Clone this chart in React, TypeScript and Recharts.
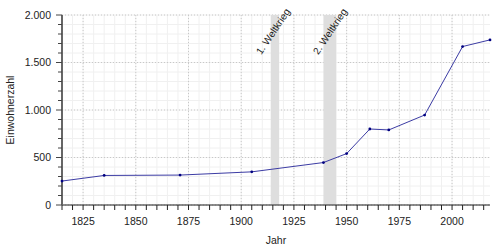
import { LineChart, Line, XAxis, YAxis, CartesianGrid, ReferenceArea } from "recharts";

const years = [1815, 1835, 1871, 1905, 1939, 1950, 1961, 1970, 1987, 2005, 2018];
const population = [252, 311, 315, 349, 447, 541, 800, 790, 947, 1668, 1738];

const xTicks = [1815, 1820, 1825, 1830, 1835, 1840, 1845, 1850, 1855, 1860, 1865, 1870, 1875, 1880, 1885, 1890, 1895, 1900, 1905, 1910, 1915, 1920, 1925, 1930, 1935, 1940, 1945, 1950, 1955, 1960, 1965, 1970, 1975, 1980, 1985, 1990, 1995, 2000, 2005, 2010, 2015];
const xMajor = [1825, 1850, 1875, 1900, 1925, 1950, 1975, 2000];
const yTicks = [0, 100, 200, 300, 400, 500, 600, 700, 800, 900, 1000, 1100, 1200, 1300, 1400, 1500, 1600, 1700, 1800, 1900, 2000];
const yMajor = [0, 500, 1000, 1500, 2000];

const wars = [
  { name: "1. Weltkrieg", from: 1914, to: 1918 },
  { name: "2. Weltkrieg", from: 1939, to: 1945 },
];

const data = years.map((year, i) => ({ year, value: population[i] }));

const font = "'Liberation Sans', Arial, sans-serif";

// 2000 -> "2.000"
const fmt = (n: number) => String(n).replace(/\B(?=(\d{3})+(?!\d))/g, ".");

function XTick(props: any) {
  const { x, y, payload } = props;
  const major = xMajor.includes(payload.value);
  return (
    <g>
      <line x1={x} x2={x} y1={y} y2={y + 5} stroke="#222" strokeWidth={1} />
      {major && (
        <text x={x} y={y + 20} textAnchor="middle" fontSize={10.5} fontFamily={font} fill="#222">
          {payload.value}
        </text>
      )}
    </g>
  );
}

function YTick(props: any) {
  const { x, y, payload } = props;
  const major = yMajor.includes(payload.value);
  const len = major ? 6 : 4;
  return (
    <g>
      <line x1={x - len} x2={x} y1={y} y2={y} stroke="#444" strokeWidth={1} />
      {major && (
        <text x={x - 11} y={y + 3.8} textAnchor="end" fontSize={10.5} fontFamily={font} fill="#222">
          {fmt(payload.value)}
        </text>
      )}
    </g>
  );
}

// rotated label, anchored just right of the band's top edge
function WarLabel({ viewBox, text }: any) {
  const px = viewBox.x + viewBox.width + 11.5;
  const py = viewBox.y - 3.5;
  return (
    <text
      transform={`translate(${px},${py}) rotate(-56)`}
      textAnchor="end"
      fontSize={10}
      fontFamily={font}
      fill="#222"
    >
      {text}
    </text>
  );
}

export default function App() {
  return (
    <div style={{ position: "absolute", left: 0, top: 0 }}>
      <LineChart width={500} height={250} data={data} margin={{ top: 15, right: 10, left: 0, bottom: 0 }}>
        <CartesianGrid
          stroke="#f0f0f0"
          strokeWidth={1}
          verticalValues={xTicks}
          horizontalValues={yTicks}
          fill="none"
        />
        <CartesianGrid
          stroke="#c8c8c8"
          strokeWidth={1}
          strokeDasharray="1 2"
          verticalValues={xMajor}
          horizontalValues={yMajor}
          fill="none"
        />
        {wars.map((w) => (
          <ReferenceArea
            key={w.name}
            x1={w.from}
            x2={w.to}
            y1={0}
            y2={2000}
            fill="#dedede"
            fillOpacity={1}
            stroke="none"
            label={(p: any) => <WarLabel viewBox={p.viewBox} text={w.name} />}
          />
        ))}
        <XAxis
          dataKey="year"
          type="number"
          domain={[1815, 2018]}
          ticks={xTicks}
          interval={0}
          tickLine={false}
          tickSize={0}
          tickMargin={0}
          height={45}
          axisLine={{ stroke: "#222", strokeWidth: 1.2 }}
          tick={<XTick />}
          label={() => (
            <text x={276} y={244} textAnchor="middle" fontSize={10.5} fontFamily={font} fill="#222">
              Jahr
            </text>
          )}
        />
        <YAxis
          type="number"
          domain={[0, 2000]}
          ticks={yTicks}
          interval={0}
          width={62}
          tickLine={false}
          tickSize={0}
          tickMargin={0}
          axisLine={{ stroke: "#666", strokeWidth: 2 }}
          tick={<YTick />}
          label={() => (
            <text
              transform="translate(13.5,110) rotate(-90)"
              textAnchor="middle"
              fontSize={10.5}
              fontFamily={font}
              fill="#222"
            >
              Einwohnerzahl
            </text>
          )}
        />
        <Line
          dataKey="value"
          type="linear"
          stroke="#3c3ca4"
          strokeWidth={1}
          dot={{ r: 1.4, fill: "#000080", stroke: "none" }}
          isAnimationActive={false}
        />
      </LineChart>
    </div>
  );
}
